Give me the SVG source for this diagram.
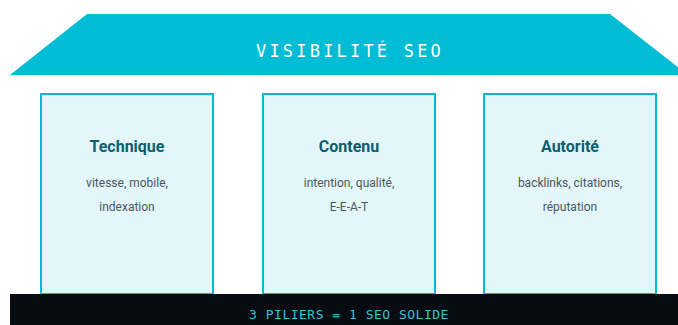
<svg xmlns="http://www.w3.org/2000/svg" width="678" height="325" viewBox="0 0 678 325">
<style>
.pillar{fill:#e3f7fb;stroke:#00bcd4;stroke-width:2}
.ptitle{font-family:"Roboto","DejaVu Sans",sans-serif;font-weight:bold;font-size:16px;fill:#0b5d70;text-anchor:middle}
.psub{font-family:"Roboto","DejaVu Sans",sans-serif;font-size:12px;fill:#4a5560;text-anchor:middle}
.mono{font-family:"DejaVu Sans Mono","Liberation Mono",monospace;text-anchor:middle}
</style>
<rect width="678" height="325" fill="#ffffff"/>
<g id="roof">
<polygon points="87,14 610,14 688,75 10,75" fill="#00bcd4"/>
<text class="mono" x="350" y="57" font-size="17" letter-spacing="3.2" fill="#ffffff">VISIBILITÉ SEO</text>
</g>
<g id="connectors"></g>
<g id="technique">
<rect class="pillar" x="41" y="94" width="172" height="200"/>
<text class="ptitle" x="127" y="152">Technique</text>
<text class="psub" x="127" y="187">vitesse, mobile,</text>
<text class="psub" x="127" y="211">indexation</text>
</g>
<g id="contenu">
<rect class="pillar" x="263" y="94" width="172" height="200"/>
<text class="ptitle" x="349" y="152">Contenu</text>
<text class="psub" x="349" y="187">intention, qualité,</text>
<text class="psub" x="349" y="211">E-E-A-T</text>
</g>
<g id="autorite">
<rect class="pillar" x="484" y="94" width="172" height="200"/>
<text class="ptitle" x="570" y="152">Autorité</text>
<text class="psub" x="570" y="187">backlinks, citations,</text>
<text class="psub" x="570" y="211">réputation</text>
</g>
<g id="base">
<rect x="10" y="294" width="668" height="31" fill="#070b12"/>
<text class="mono" x="349" y="319" font-size="13" letter-spacing="0.5" fill="#2ec4d6">3 PILIERS = 1 SEO SOLIDE</text>
</g>
</svg>
